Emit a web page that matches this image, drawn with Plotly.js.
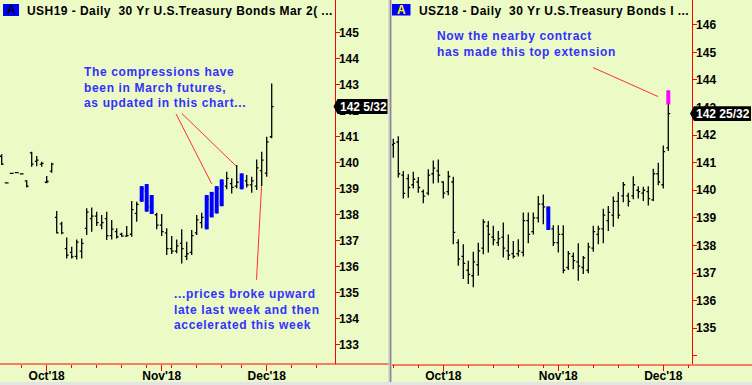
<!DOCTYPE html>
<html><head><meta charset="utf-8">
<script src="https://cdn.plot.ly/plotly-3.0.1.min.js"></script>
<style>html,body{margin:0;padding:0;background:#ecfac6;overflow:hidden}#chart{width:752px;height:385px}</style>
</head><body><div id="chart"></div>
<script>
// trading days shown on both panels
const dates = ['2018-09-17','2018-09-18','2018-09-19','2018-09-20','2018-09-21','2018-09-24','2018-09-25','2018-09-26','2018-09-27','2018-09-28',
 '2018-10-01','2018-10-02','2018-10-03','2018-10-04','2018-10-05','2018-10-08','2018-10-09','2018-10-10','2018-10-11','2018-10-12',
 '2018-10-15','2018-10-16','2018-10-17','2018-10-18','2018-10-19','2018-10-22','2018-10-23','2018-10-24','2018-10-25','2018-10-26',
 '2018-10-29','2018-10-30','2018-10-31','2018-11-01','2018-11-02','2018-11-05','2018-11-06','2018-11-07','2018-11-08','2018-11-09',
 '2018-11-12','2018-11-13','2018-11-14','2018-11-15','2018-11-16','2018-11-19','2018-11-20','2018-11-21','2018-11-23','2018-11-26',
 '2018-11-27','2018-11-28','2018-11-29','2018-11-30','2018-12-03','2018-12-04'];

// USH19 (March) daily OHLC
const openH  = [null,140.25,139.23,139.59,139.62,139.57,139.30,140.38,140.05,139.95,139.25,139.68,137.90,137.65,136.70,136.55,136.40,136.60,137.48,137.85,137.95,137.60,137.85,137.20,137.35,137.25,137.18,137.25,138.05,138.60,138.90,138.30,138.00,137.60,137.30,136.70,136.60,136.90,136.40,136.55,137.30,137.70,137.60,138.00,138.20,138.50,139.10,139.20,139.10,139.40,139.30,139.15,139.10,139.70,139.60,141.00];
const highH  = [null,140.33,139.23,139.59,139.62,139.57,139.33,140.42,140.26,140.04,139.49,140.00,138.14,137.73,137.13,136.77,137.05,137.09,138.25,138.28,138.12,137.99,138.12,137.80,137.48,137.31,137.57,138.53,138.50,139.10,139.18,138.76,138.08,138.03,137.48,137.18,137.05,137.44,136.96,137.41,137.99,138.08,138.76,138.88,139.10,139.36,139.65,139.40,139.91,139.59,139.53,139.46,140.13,140.42,141.00,143.05];
const lowH   = [null,139.91,139.23,139.59,139.62,139.57,139.05,139.85,139.87,139.85,139.21,139.62,137.28,137.25,136.32,136.32,136.28,136.32,137.22,137.35,137.57,137.44,137.03,137.05,137.09,137.15,137.15,137.15,137.73,138.50,138.12,138.03,137.44,137.18,136.45,136.49,136.52,136.13,136.26,136.45,137.22,137.48,137.44,137.90,138.05,138.33,138.98,138.82,139.02,138.98,139.05,138.85,138.95,139.10,139.46,140.94];
const closeH = [null,139.95,139.23,139.59,139.62,139.57,139.10,139.95,140.10,139.98,139.28,139.95,137.30,137.30,136.45,136.38,136.95,136.90,138.10,137.95,137.70,137.70,137.20,137.45,137.15,137.18,137.20,138.20,138.40,139.00,138.30,138.10,137.60,137.35,136.70,136.60,136.80,136.70,136.50,137.20,137.80,137.90,138.60,138.80,139.00,139.20,139.40,139.05,139.25,139.10,139.15,139.30,139.80,140.10,140.80,142.16];

// USZ18 (December) daily OHLC
const openZ  = [141.65,141.75,140.55,140.42,140.20,140.30,139.95,139.90,140.60,140.70,140.30,139.95,140.30,138.10,137.60,137.10,136.90,137.30,137.90,138.70,138.30,138.10,138.30,137.80,137.70,137.70,137.75,138.90,138.50,139.00,139.50,139.30,138.60,138.10,138.40,137.20,137.60,137.40,137.20,137.10,137.90,138.40,138.60,138.90,139.10,139.60,139.80,139.80,139.80,140.00,139.90,139.95,139.65,140.60,140.20,141.54];
const highZ  = [141.87,141.96,140.70,140.58,140.67,140.48,140.03,140.76,141.08,141.12,140.33,140.70,140.49,138.22,138.04,137.44,137.77,138.10,138.95,138.89,138.71,138.52,138.83,138.40,138.16,138.22,139.19,139.19,139.19,139.79,139.85,139.41,138.73,138.73,138.73,137.80,137.74,138.08,137.62,138.10,138.71,138.71,139.33,139.43,139.77,139.94,140.30,139.91,140.51,140.15,140.13,140.15,140.78,141.00,141.62,143.62];
const lowZ   = [141.18,140.46,139.70,139.73,140.06,139.91,139.53,139.82,140.25,140.27,139.70,139.82,138.04,137.26,136.78,136.60,136.48,136.90,137.68,137.74,138.01,137.98,137.56,137.47,137.53,137.60,137.60,138.08,138.40,138.83,138.77,138.56,137.98,137.74,136.99,137.11,137.14,136.72,136.96,136.99,137.77,138.04,138.08,138.52,138.68,138.97,139.57,139.41,139.67,139.70,139.61,139.45,139.61,140.18,140.06,141.42];
const closeZ = [141.70,140.60,139.89,140.10,140.40,140.10,139.79,140.55,140.80,140.55,139.90,140.50,138.47,137.50,137.35,136.95,137.40,137.80,138.85,138.40,138.20,138.25,137.90,137.65,137.60,137.80,138.90,138.40,139.00,139.50,139.40,138.70,138.10,138.40,137.10,137.70,137.45,137.25,137.55,137.95,138.50,138.60,139.10,139.20,139.60,139.10,140.20,139.60,140.20,139.95,140.00,139.70,140.60,140.30,141.40,142.78];

// highlighted (compression) bars and the top extension
const compressH = ['2018-10-26','2018-10-29','2018-10-30','2018-11-14','2018-11-15','2018-11-16','2018-11-19','2018-11-26'];
const compressZ = ['2018-10-30'];
const extensionDates = ['2018-12-04'];
const extensionLow = [143.11];
const extensionHigh = [143.62];

const ticksH = [133,134,135,136,137,138,139,140,141,142,143,144,145];
const ticksZ = [134,135,136,137,138,139,140,141,142,143,144,145,146];
const ticksZHidden = [134];
const lastLabelH = '142 5/32';
const lastLabelZ = '142 25/32';

const BG = '#ecfac6';
const FONT = 'Liberation Sans, Arial, sans-serif';
const W = 752, PH = 364;
const fx = x => x / W;
const fy = y => 1 - y / PH;

const idx = dates.map((d, i) => i);
const monthNames = ['Jan','Feb','Mar','Apr','May','Jun','Jul','Aug','Sep','Oct','Nov','Dec'];
const majorVals = [], majorText = [], mondays = [];
dates.forEach((d, i) => {
  const dt = new Date(d + 'T00:00:00Z');
  if (i > 0 && dt.getUTCMonth() !== new Date(dates[i-1] + 'T00:00:00Z').getUTCMonth()) {
    majorVals.push(i); majorText.push(monthNames[dt.getUTCMonth()] + "'" + String(dt.getUTCFullYear()).slice(2));
  }
  if (dt.getUTCDay() === 1) mondays.push(i);
});
const lastMon = mondays[mondays.length - 1];
mondays.push(lastMon + 5, lastMon + 10);

function pick(arr, list) { return list.map(d => arr[dates.indexOf(d)]); }
function ohlc(o, h, l, c, ax, ay) {
  return {type:'ohlc', x: idx, open:o, high:h, low:l, close:c, xaxis:ax, yaxis:ay,
    increasing:{line:{color:'#000', width:1.3}}, decreasing:{line:{color:'#000', width:1.3}},
    tickwidth:0.38, hoverinfo:'skip', showlegend:false};
}
function hilite(list, o, h, l, c, ax, ay, color) {
  return {type:'ohlc', x: list.map(d => dates.indexOf(d)), open:pick(o,list), high:pick(h,list), low:pick(l,list), close:pick(c,list),
    xaxis:ax, yaxis:ay, increasing:{line:{color:color, width:4}}, decreasing:{line:{color:color, width:4}},
    tickwidth:0, hoverinfo:'skip', showlegend:false};
}

const traces = [
  ohlc(openH, highH, lowH, closeH, 'x', 'y'),
  hilite(compressH, openH, highH, lowH, closeH, 'x', 'y', '#0000ff'),
  ohlc(openZ, highZ, lowZ, closeZ, 'x2', 'y2'),
  hilite(compressZ, openZ, highZ, lowZ, closeZ, 'x2', 'y2', '#0000ff'),
  {type:'ohlc', x: extensionDates.map(d => dates.indexOf(d)), open: extensionLow, low: extensionLow, high: extensionHigh, close: extensionHigh,
   xaxis:'x2', yaxis:'y2', increasing:{line:{color:'#ff00ff', width:4}}, decreasing:{line:{color:'#ff00ff', width:4}},
   tickwidth:0, hoverinfo:'skip', showlegend:false}
];

const tickFont = {family:FONT, size:12, color:'#000', weight:'bold'};
function xax(domain, range, anchor) {
  return {domain, range, anchor, type:'linear', showgrid:false, zeroline:false, showline:false,
    tickmode:'array', tickvals:majorVals, ticktext:majorText, ticks:'outside', ticklen:6, tickcolor:'#ff0000', tickwidth:1,
    ticklabelstandoff:-5, tickfont:tickFont, rangeslider:{visible:false}, fixedrange:true,
    minor:{tickmode:'array', tickvals:mondays, ticks:'outside', ticklen:3, tickcolor:'#ff0000', tickwidth:1, showgrid:false}};
}
function yax(range, anchor, vals, hidden) {
  return {range, anchor, side:'right', showgrid:false, zeroline:false, showline:true, linecolor:'#ff0000', linewidth:1,
    tickmode:'array', tickvals:vals, ticktext: vals.map(v => hidden.includes(v) ? '' : String(v)),
    ticks:'outside', ticklen:4, tickcolor:'#ff0000', tickwidth:1, ticklabelstandoff:-3, tickfont:tickFont, fixedrange:true};
}

const blue = '#3131ff';
const shapes = [
  // axis base lines across each panel
  {type:'line', xref:'paper', yref:'paper', x0:0, x1:fx(389), y0:fy(364), y1:fy(364), line:{color:'#ff0000', width:1}},
  {type:'line', xref:'paper', yref:'paper', x0:fx(392), x1:1, y0:fy(365), y1:fy(365), line:{color:'#ff0000', width:1}},
  // panel separator and bottom strip
  {type:'rect', xref:'paper', yref:'paper', x0:fx(388.5), x1:fx(392), y0:fy(385), y1:1, fillcolor:'#c4c4c4', line:{width:0}},
  {type:'line', xref:'paper', yref:'paper', x0:fx(390.5), x1:fx(390.5), y0:fy(385), y1:1, line:{color:'#8a8a8a', width:1}},
  {type:'rect', xref:'paper', yref:'paper', x0:0, x1:1, y0:fy(385), y1:fy(382), fillcolor:'#e4e4e4', line:{width:0}},
  // "A" boxes
  {type:'rect', xref:'paper', yref:'paper', x0:fx(3), x1:fx(19), y0:fy(16), y1:fy(4), fillcolor:'#0000ff', line:{width:0}},
  {type:'rect', xref:'paper', yref:'paper', x0:fx(392), x1:fx(410.5), y0:fy(15.5), y1:fy(4), fillcolor:'#0000ff', line:{width:0}},
  // connector lines
  {type:'line', xref:'x', yref:'y', x0:35.86, y0:141.88, x1:43.0, y1:139.19, line:{color:'#ff3030', width:1}},
  {type:'line', xref:'x', yref:'y', x0:37.0, y0:141.90, x1:47.86, y1:139.88, line:{color:'#ff3030', width:1}},
  {type:'line', xref:'x', yref:'y', x0:52.96, y0:139.07, x1:51.96, y1:135.5, line:{color:'#ff3030', width:1}},
  {type:'line', xref:'x2', yref:'y2', x0:39.94, y0:144.45, x1:52.94, y1:143.40, line:{color:'#ff3030', width:1}},
  // last-price tags
  {type:'path', xref:'paper', yref:'y', ysizemode:'pixel', yanchor:closeH[closeH.length-1],
   path:`M ${fx(333.5)},0 L ${fx(337.5)},7.5 L ${fx(387.5)},7.5 L ${fx(387.5)},-7.5 L ${fx(337.5)},-7.5 Z`, fillcolor:'#000', line:{width:0}},
  {type:'path', xref:'paper', yref:'y2', ysizemode:'pixel', yanchor:closeZ[closeZ.length-1],
   path:`M ${fx(690)},0 L ${fx(694)},7.3 L ${fx(751)},7.3 L ${fx(751)},-7.3 L ${fx(694)},-7.3 Z`, fillcolor:'#000', line:{width:0}}
];

const bold = (c, sz) => ({family:FONT, size:sz||12, color:c, weight:'bold'});
const annotations = [
  {xref:'paper', yref:'paper', x:fx(11), y:fy(10.3), text:'A', showarrow:false, font:bold('#000'), xanchor:'center', yanchor:'middle', borderpad:0},
  {xref:'paper', yref:'paper', x:fx(401.2), y:fy(10), text:'A', showarrow:false, font:bold('#ffff00'), xanchor:'center', yanchor:'middle', borderpad:0},
  {xref:'paper', yref:'paper', x:fx(26), y:fy(10.5), text:'USH19 - Daily\u00a0 30 Yr U.S.Treasury Bonds Mar 2( ...', align:'left', showarrow:false, font:bold('#000'), xanchor:'left', yanchor:'middle', borderpad:0},
  {xref:'paper', yref:'paper', x:fx(417.5), y:fy(10.5), text:'USZ18 - Daily\u00a0 30 Yr U.S.Treasury Bonds I ...', align:'left', showarrow:false, font:bold('#000'), xanchor:'left', yanchor:'middle', borderpad:0},
  {xref:'paper', yref:'paper', x:fx(83), y:fy(87.7), text:'The compressions have<br>been in March futures,<br>as updated in this chart...', align:'left', showarrow:false, font:bold(blue), xanchor:'left', yanchor:'middle', borderpad:0},
  {xref:'paper', yref:'paper', x:fx(173), y:fy(309.5), text:'...prices broke upward<br>late last week and then<br>accelerated this week', align:'left', showarrow:false, font:bold(blue), xanchor:'left', yanchor:'middle', borderpad:0},
  {xref:'paper', yref:'paper', x:fx(435.5), y:fy(44), text:'Now the nearby contract<br>has made this top extension', align:'left', showarrow:false, font:bold(blue), xanchor:'left', yanchor:'middle', borderpad:0},
  {xref:'paper', yref:'y', x:fx(339), y:closeH[closeH.length-1], text:lastLabelH, align:'left', showarrow:false, font:bold('#fff'), xanchor:'left', yanchor:'middle', borderpad:0},
  {xref:'paper', yref:'y2', x:fx(695), y:closeZ[closeZ.length-1], text:lastLabelZ, align:'left', showarrow:false, font:bold('#fff'), xanchor:'left', yanchor:'middle', borderpad:0}
];
const spacing = {2:'0.45px', 3:'0.45px', 4:'0.65px', 5:'0.65px', 6:'0.65px'};

const layout = {
  width:752, height:385, margin:{l:0, r:0, t:0, b:21, pad:0}, autosize:false,
  paper_bgcolor:BG, plot_bgcolor:BG, showlegend:false, dragmode:false,
  xaxis: xax([0, 334.5/W], [0.66, 67.56], 'y'),
  yaxis: yax([132.26, 146.26], 'x', ticksH, []),
  xaxis2: xax([392/W, 691.7/W], [-0.26, 59.68], 'y2'),
  yaxis2: yax([133.70, 146.90], 'x2', ticksZ, ticksZHidden),
  shapes, annotations
};

Plotly.newPlot('chart', traces, layout, {displayModeBar:false, staticPlot:true}).then(() => {
  document.querySelectorAll('g.annotation').forEach(g => {
    const k = g.getAttribute('data-index');
    if (spacing[k]) g.querySelectorAll('text').forEach(t => t.style.letterSpacing = spacing[k]);
  });
});
</script></body></html>
